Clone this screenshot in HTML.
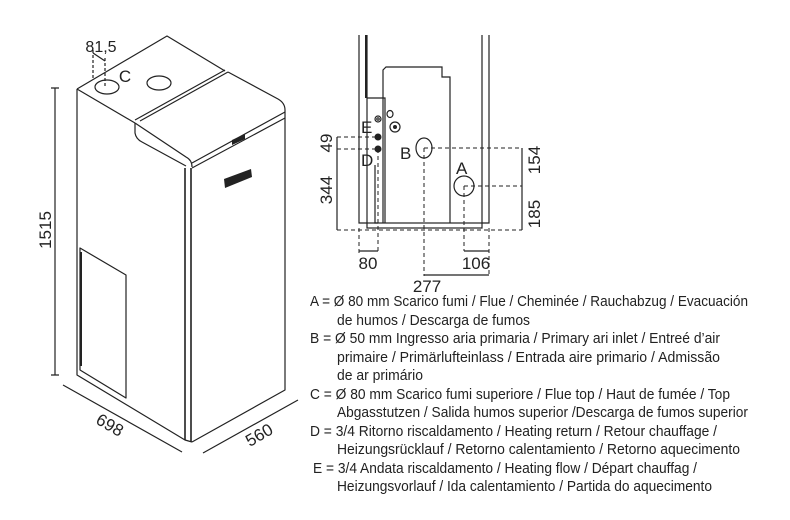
<!DOCTYPE html>
<html><head><meta charset="utf-8"><style>
html,body{margin:0;padding:0;background:#fff;}
svg{display:block;}
text{font-family:"Liberation Sans",sans-serif;fill:#222;}
</style></head><body>
<svg width="790" height="520" viewBox="0 0 790 520" xmlns="http://www.w3.org/2000/svg">
<g fill="none" stroke="#222" stroke-width="1.2" stroke-linejoin="round">
<!-- cabinet -->
<path d="M77,89 L167,36 L225,71"/>
<path d="M77,89 L135,123"/>
<path d="M135,120 L225,70 M140,121 L228,72"/>
<path d="M228,72 L278,99 Q285,103 285,110 L285,390 L192,442"/>
<path d="M135,123 L186,157 Q192,160 192,167"/>
<path d="M135,123 L135,133 Q136,139 142,142 L186,166"/>
<path d="M192,163 L285,112 M192,168 L285,118"/>
<path d="M77,89 L77,375 L185,440 L192,442"/>
<path d="M185,168 L185,440 M191,168 L191,442" stroke-width="1.6"/>
<ellipse cx="107" cy="87" rx="12" ry="7"/>
<ellipse cx="159" cy="83" rx="12" ry="7"/>
<!-- door -->
<path d="M80,248 L126,275 L126,398 L80,370 Z"/>
<path d="M81,252 L81,366" stroke-width="2"/>
<!-- dim 1515 -->
<path d="M55,88 L55,375 M51,88 L59,88 M51,375 L59,375"/>
<!-- 81,5 -->
<path d="M93,50 L93,80 M105,58 L105,86" stroke-dasharray="3,2"/>
<path d="M93,53 L105,61"/>
<!-- 698 -->
<path d="M63,385 L182,452"/>
<!-- 560 -->
<path d="M203,453 L298,400"/>
</g>
<polygon points="224,179 251,169 252,177 225,188" fill="#222"/>
<polygon points="232,140 245,134 245,139 232,145" fill="#222"/>
<text x="101" y="52" font-size="16" text-anchor="middle">81,5</text>
<text x="125" y="82" font-size="17" text-anchor="middle">C</text>
<text x="51" y="230" font-size="17" text-anchor="middle" transform="rotate(-90 51 230)">1515</text>
<text x="107" y="430" font-size="17" text-anchor="middle" transform="rotate(30 107 430)">698</text>
<text x="262" y="440" font-size="17" text-anchor="middle" transform="rotate(-30 262 440)">560</text>

<!-- side section -->
<g fill="none" stroke="#222" stroke-width="1.2">
<path d="M359,35 L359,223 L367,223 L367,35"/>
<path d="M366,35 L366,98" stroke-width="2"/>
<path d="M482,35 L482,223 L489,223 L489,35"/>
<rect x="367" y="223" width="115" height="5"/>
<path d="M367,98 L385,98 L385,223 M375,165 L375,223 L378,223"/>
<path d="M383,223 L383,70 L386,67 L442,67 L442,77 L450,77 L450,223"/>
<circle cx="378" cy="119" r="3"/><circle cx="378" cy="119" r="1.2"/>
<ellipse cx="390" cy="114" rx="3" ry="3.5"/>
<circle cx="395" cy="127" r="5"/>
<ellipse cx="424" cy="148" rx="8" ry="10"/>
<circle cx="464" cy="186" r="10"/>
<g stroke-dasharray="4,3" stroke-width="1">
<path d="M337,137 L378,137 M337,149 L378,149 M424,148 L522,148 M464,186 L522,186 M337,230 L522,230"/>
<path d="M359,228 L359,253 M378,149 L378,253 M424,148 L424,276 M464,186 L464,251 M489,228 L489,276"/>
</g>
<path d="M337,137 L337,230 M522,148 L522,230"/>
<path d="M359,251 L378,251 M464,251 L489,251 M424,275 L489,275"/>
</g>
<circle cx="378" cy="137" r="3.5" fill="#222"/>
<circle cx="378" cy="149" r="3.5" fill="#222"/>
<circle cx="395" cy="127" r="2" fill="#222"/>
<g font-size="17">
<text x="361" y="133">E</text>
<text x="361" y="166">D</text>
<text x="400" y="159">B</text>
<text x="456" y="174">A</text>
<text x="332" y="143" text-anchor="middle" transform="rotate(-90 332 143)">49</text>
<text x="332" y="190" text-anchor="middle" transform="rotate(-90 332 190)">344</text>
<text x="540" y="160" text-anchor="middle" transform="rotate(-90 540 160)">154</text>
<text x="540" y="214" text-anchor="middle" transform="rotate(-90 540 214)">185</text>
<text x="368" y="269" text-anchor="middle">80</text>
<text x="476" y="269" text-anchor="middle">106</text>
<text x="427" y="292" text-anchor="middle">277</text>
</g>

<!-- legend -->
<g font-size="15">
<text x="310" y="306" textLength="438" lengthAdjust="spacingAndGlyphs">A = Ø 80 mm Scarico fumi / Flue / Cheminée / Rauchabzug / Evacuación</text>
<text x="337" y="325" textLength="193" lengthAdjust="spacingAndGlyphs">de humos / Descarga de fumos</text>
<text x="310" y="343" textLength="410" lengthAdjust="spacingAndGlyphs">B = Ø 50 mm Ingresso aria primaria / Primary ari inlet / Entreé d’air</text>
<text x="337" y="362" textLength="383" lengthAdjust="spacingAndGlyphs">primaire / Primärlufteinlass / Entrada aire primario / Admissão</text>
<text x="337" y="380" textLength="86" lengthAdjust="spacingAndGlyphs">de ar primário</text>
<text x="310" y="399" textLength="420" lengthAdjust="spacingAndGlyphs">C = Ø 80 mm  Scarico fumi superiore / Flue top / Haut de fumée / Top</text>
<text x="337" y="417" textLength="411" lengthAdjust="spacingAndGlyphs">Abgasstutzen / Salida humos superior /Descarga de fumos superior</text>
<text x="310" y="436" textLength="407" lengthAdjust="spacingAndGlyphs">D = 3/4 Ritorno riscaldamento / Heating return / Retour chauffage /</text>
<text x="337" y="454" textLength="403" lengthAdjust="spacingAndGlyphs">Heizungsrücklauf / Retorno calentamiento / Retorno aquecimento</text>
<text x="313" y="473" textLength="384" lengthAdjust="spacingAndGlyphs">E = 3/4 Andata riscaldamento / Heating flow / Départ chauffag /</text>
<text x="337" y="491" textLength="375" lengthAdjust="spacingAndGlyphs">Heizungsvorlauf / Ida calentamiento / Partida do aquecimento</text>
</g>
</svg>
</body></html>
